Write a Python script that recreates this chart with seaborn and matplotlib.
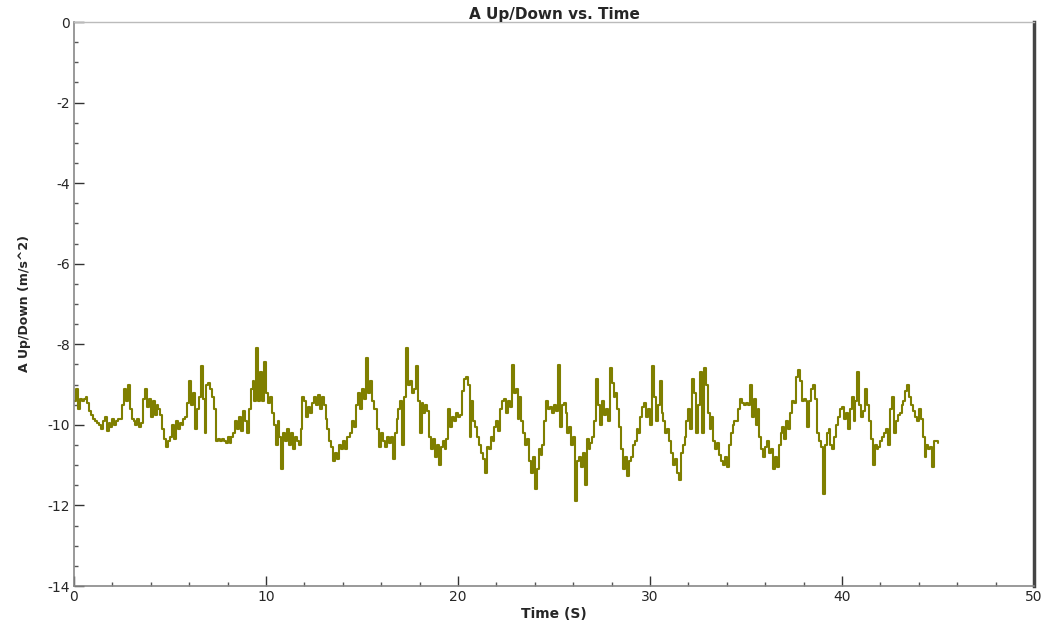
import numpy as np
import pandas as pd
import matplotlib
matplotlib.use("Agg")
import matplotlib.pyplot as plt
from matplotlib.ticker import MultipleLocator
import seaborn as sns

# sample rate of the logger (s)
sample_dt = 0.1

# A Up/Down readings (m/s^2), one row per second
accel = [
    -9.4, -9.1, -9.6, -9.35, -9.4, -9.35, -9.3, -9.45, -9.65, -9.75,
    -9.85, -9.9, -9.95, -10.0, -10.1, -9.9, -9.8, -10.15, -9.95, -10.05,
    -9.85, -10.0, -9.9, -9.85, -9.85, -9.5, -9.1, -9.4, -9.0, -9.6,
    -9.85, -9.9, -10.0, -9.85, -10.05, -9.95, -9.35, -9.1, -9.55, -9.35,
    -9.8, -9.4, -9.75, -9.5, -9.6, -9.75, -10.1, -10.35, -10.55, -10.4,
    -10.3, -10.0, -10.35, -9.9, -10.1, -9.95, -10.0, -9.85, -9.8, -9.45,
    -8.9, -9.5, -9.2, -10.1, -9.6, -9.3, -8.55, -9.35, -10.2, -9.0,
    -8.95, -9.1, -9.3, -9.6, -10.4, -10.35, -10.4, -10.35, -10.4, -10.45,
    -10.3, -10.45, -10.3, -10.2, -9.9, -10.1, -9.8, -10.15, -9.65, -9.9,
    -10.2, -9.6, -9.1, -8.9, -9.4, -8.1, -9.4, -8.7, -9.4, -8.45,
    -9.2, -9.45, -9.3, -9.7, -10.0, -10.5, -9.9, -10.3, -11.1, -10.2,
    -10.4, -10.1, -10.5, -10.2, -10.6, -10.3, -10.4, -10.5, -10.1, -9.3,
    -9.4, -9.8, -9.55, -9.7, -9.45, -9.3, -9.5, -9.25, -9.6, -9.3,
    -9.5, -9.85, -10.1, -10.4, -10.55, -10.9, -10.7, -10.85, -10.5, -10.6,
    -10.4, -10.6, -10.3, -10.3, -10.2, -9.9, -10.05, -9.5, -9.2, -9.6,
    -9.1, -9.35, -8.35, -9.2, -8.9, -9.4, -9.6, -9.6, -10.1, -10.55,
    -10.2, -10.4, -10.55, -10.3, -10.45, -10.3, -10.85, -10.2, -9.85, -9.6,
    -9.4, -10.5, -9.3, -8.1, -9.0, -8.9, -9.2, -9.1, -8.55, -9.4,
    -10.2, -9.45, -9.7, -9.5, -9.65, -10.3, -10.6, -10.35, -10.8, -10.5,
    -11.0, -10.55, -10.4, -10.6, -10.35, -9.6, -10.05, -9.8, -9.9, -9.7,
    -9.8, -9.75, -9.15, -8.85, -8.8, -9.0, -10.3, -9.4, -9.9, -10.05,
    -10.3, -10.5, -10.7, -10.85, -11.2, -10.55, -10.6, -10.3, -10.4, -10.05,
    -9.9, -10.15, -9.6, -9.4, -9.35, -9.7, -9.4, -9.55, -8.52, -9.2,
    -9.1, -9.85, -9.3, -9.9, -10.2, -10.5, -10.35, -10.9, -11.2, -10.8,
    -11.6, -11.1, -10.6, -10.75, -10.5, -9.9, -9.4, -9.6, -9.55, -9.7,
    -9.5, -9.65, -8.52, -10.05, -9.5, -9.45, -9.7, -10.2, -10.05, -10.5,
    -10.3, -11.9, -10.9, -10.8, -11.05, -10.7, -11.5, -10.35, -10.6, -10.45,
    -10.3, -9.9, -8.87, -9.5, -10.0, -9.4, -9.75, -9.6, -9.9, -8.6,
    -8.95, -9.3, -9.2, -9.6, -10.05, -10.6, -11.1, -10.8, -11.28, -10.9,
    -10.8, -10.5, -10.4, -10.1, -10.2, -9.8, -9.55, -9.45, -9.8, -9.6,
    -10.0, -8.55, -9.3, -9.9, -9.5, -8.9, -9.7, -9.9, -10.2, -10.1,
    -10.4, -10.7, -11.0, -10.85, -11.2, -11.36, -10.7, -10.5, -10.3, -9.9,
    -9.6, -10.1, -8.85, -9.2, -10.2, -9.5, -8.7, -10.2, -8.6, -9.0,
    -9.7, -10.1, -9.8, -10.4, -10.6, -10.45, -10.75, -10.9, -11.0, -10.8,
    -11.05, -10.5, -10.2, -10.0, -9.9, -9.9, -9.6, -9.35, -9.45, -9.5,
    -9.45, -9.5, -9.0, -9.8, -9.35, -10.0, -9.6, -10.3, -10.6, -10.8,
    -10.55, -10.4, -10.7, -10.6, -11.1, -10.8, -11.05, -10.5, -10.2, -10.05,
    -10.35, -9.9, -10.1, -9.7, -9.4, -9.45, -8.8, -8.65, -8.9, -9.4,
    -9.35, -9.4, -10.05, -9.4, -9.1, -9.0, -9.35, -10.2, -10.4, -10.55,
    -11.72, -10.5, -10.2, -10.1, -10.5, -10.6, -10.3, -10.0, -9.8, -9.6,
    -9.55, -9.85, -9.7, -10.1, -9.6, -9.3, -9.9, -9.4, -8.7, -9.5,
    -9.8, -9.65, -9.1, -9.5, -9.9, -10.35, -11.0, -10.5, -10.6, -10.55,
    -10.4, -10.3, -10.2, -10.1, -10.5, -9.6, -9.3, -10.2, -9.9, -9.75,
    -9.7, -9.5, -9.4, -9.15, -9.0, -9.3, -9.5, -9.65, -9.8, -9.9,
    -9.6, -9.85, -10.3, -10.8, -10.5, -10.6, -10.55, -11.05, -10.4, -10.4,
    -10.45,
]

df = pd.DataFrame({"time": np.round(np.arange(len(accel)) * sample_dt, 1),
                   "accel": accel})

sns.set_theme(style="white")
plt.rcParams['font.family'] = ['DejaVu Sans']
plt.rcParams['axes.unicode_minus'] = False

fig = plt.figure(figsize=(10.51, 6.21), dpi=100)
ax = fig.add_axes([74 / 1051, 1 - 586 / 621, 960 / 1051, 564 / 621])

sns.lineplot(data=df, x="time", y="accel", ax=ax, color="#7f7f00",
             linewidth=1.5, drawstyle="steps-post")

ax.set_xlim(0, 50)
ax.set_ylim(-14, 0)
ax.xaxis.set_major_locator(MultipleLocator(10))
ax.xaxis.set_minor_locator(MultipleLocator(2))
ax.yaxis.set_major_locator(MultipleLocator(2))
ax.yaxis.set_minor_locator(MultipleLocator(0.5))
ax.tick_params(axis="both", which="both", bottom=True, left=True,
               top=False, right=False)
ax.tick_params(axis="both", which="major", direction="in", length=7,
               width=1, color="#333333", labelsize=10, pad=3)
ax.tick_params(axis="both", which="minor", direction="in", length=3,
               width=1, color="#555555")

for side in ["left", "bottom"]:
    ax.spines[side].set_color("#888888")
    ax.spines[side].set_linewidth(1.2)
ax.spines["top"].set_color("#bbbbbb")
ax.spines["top"].set_linewidth(1.0)
ax.spines["right"].set_color("#444444")
ax.spines["right"].set_linewidth(2.5)

ax.set_title("A Up/Down vs. Time", fontsize=11, fontweight="bold", pad=0)
ax.set_xlabel("Time (S)", fontsize=10, fontweight="bold", labelpad=2)
ax.set_ylabel("A Up/Down (m/s^2)", fontsize=9, fontweight="bold", labelpad=12)

fig.savefig("out.png", dpi=100)
